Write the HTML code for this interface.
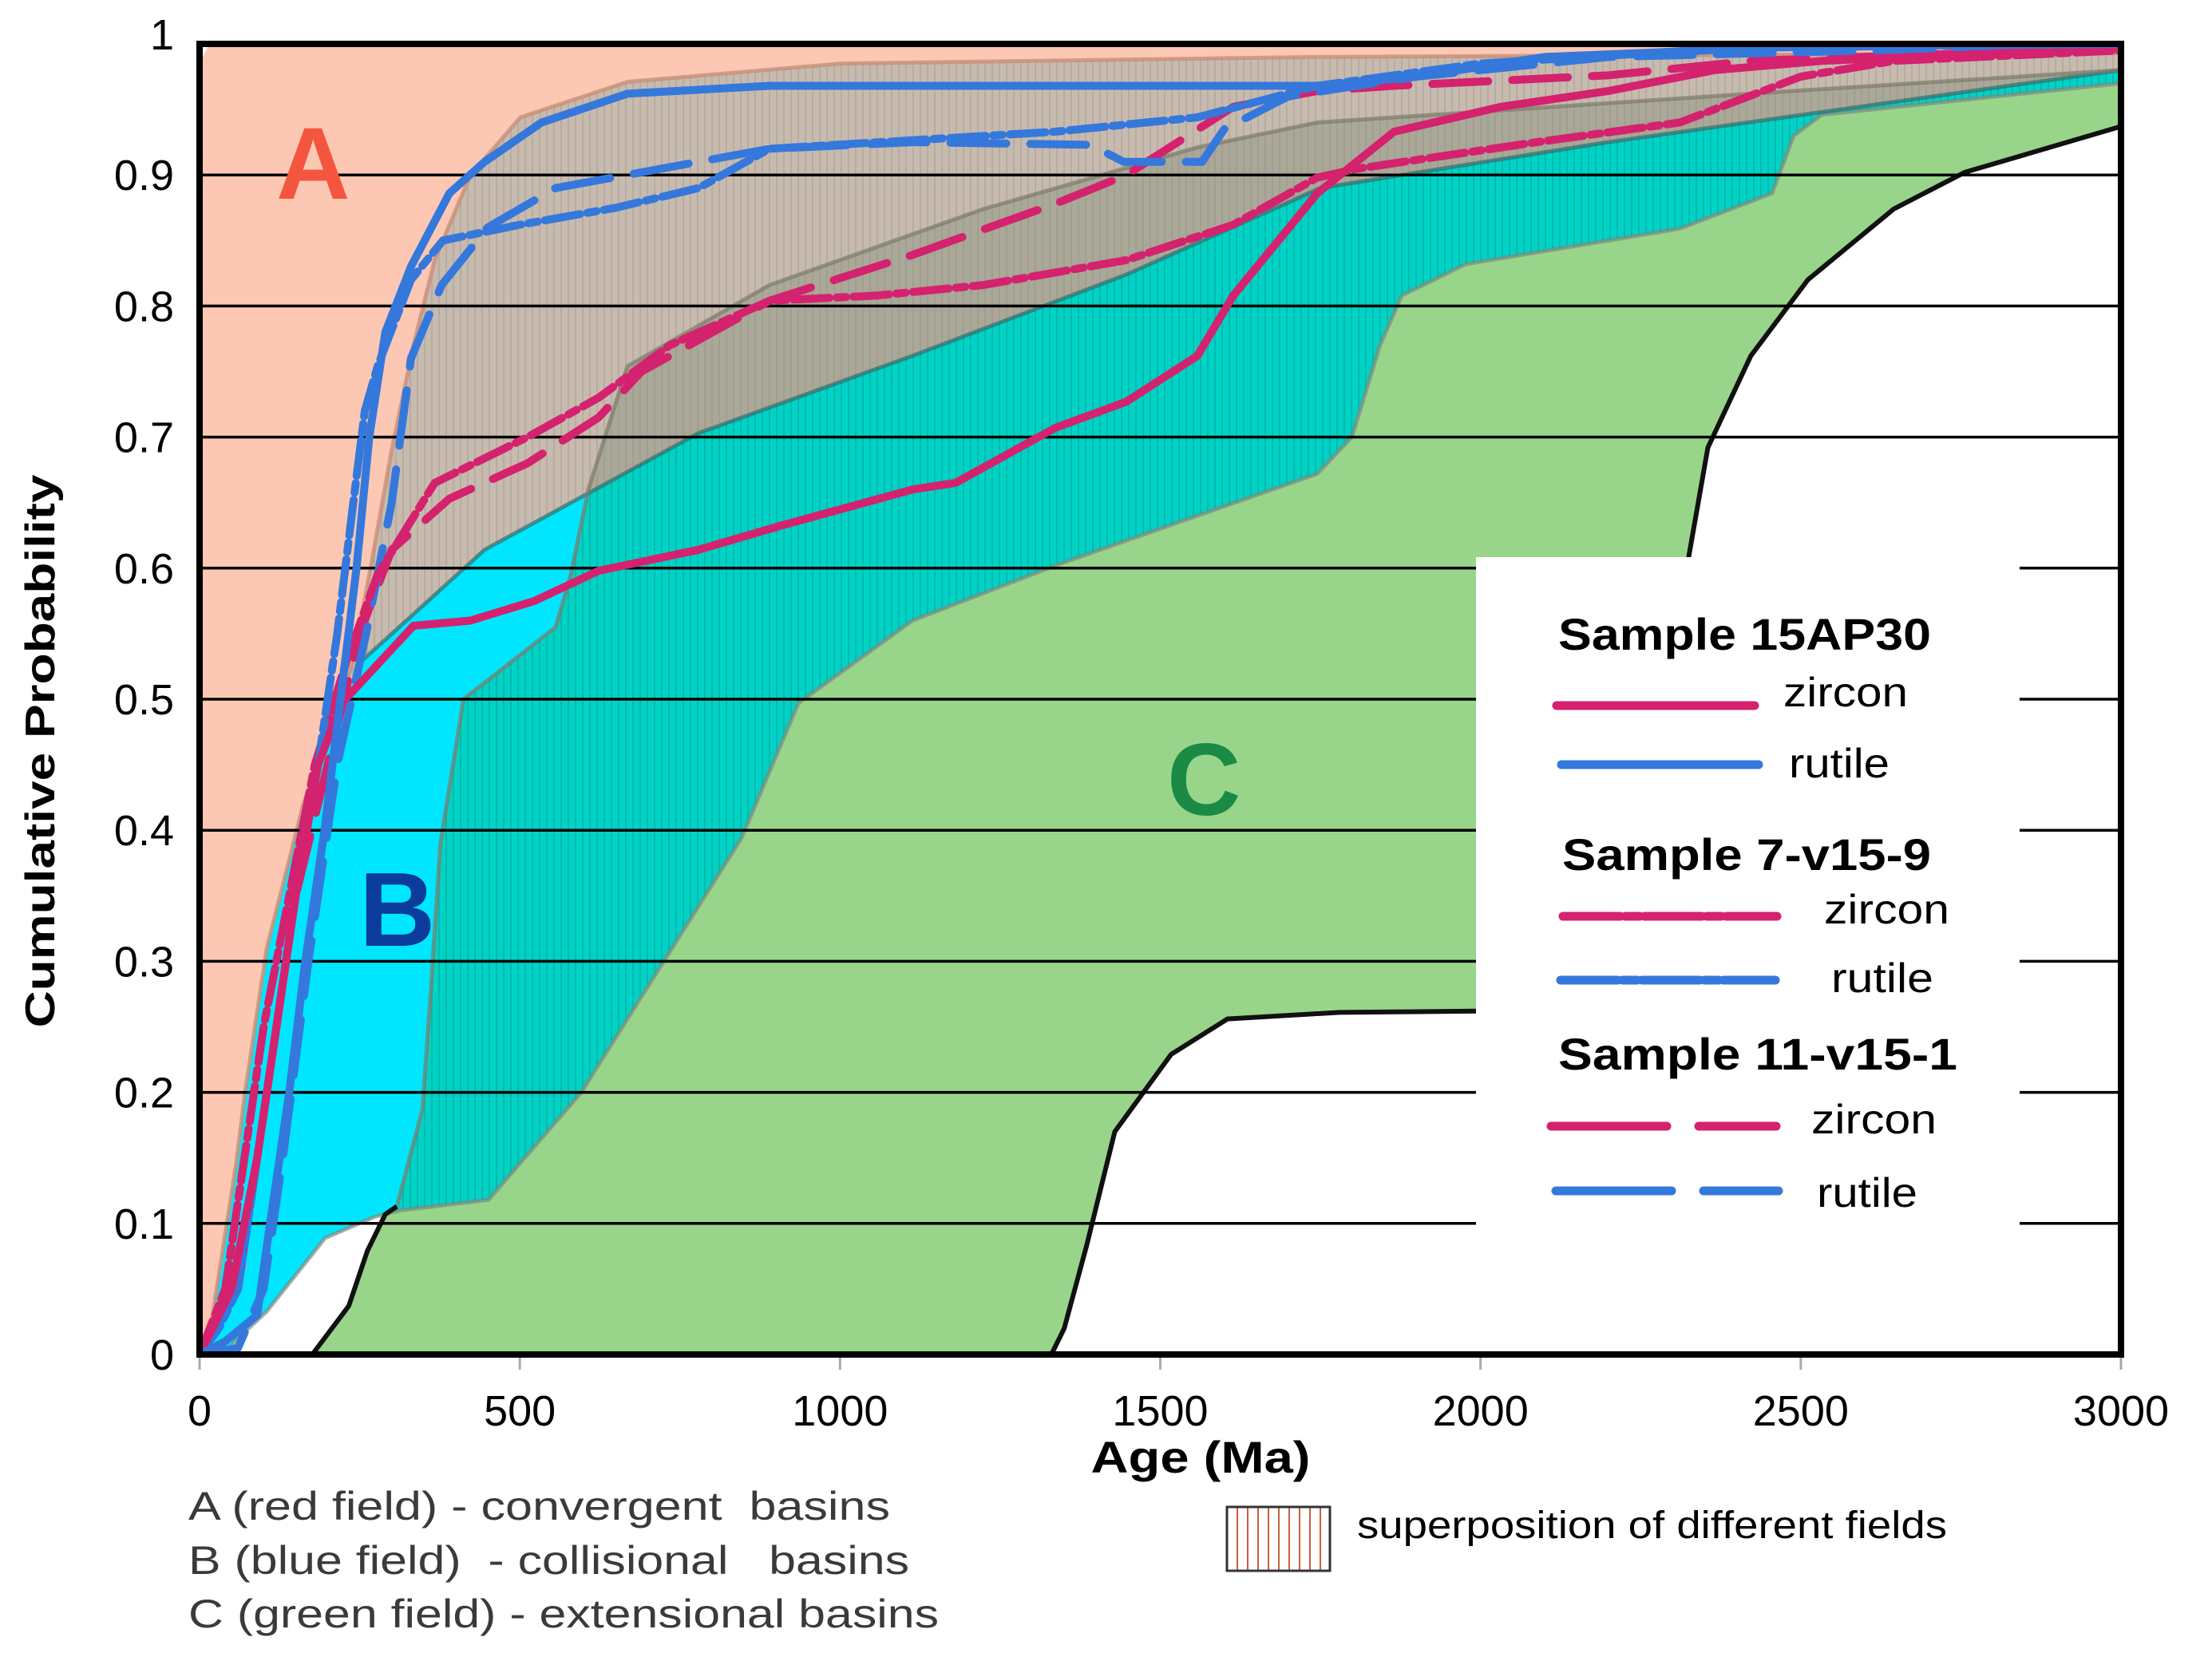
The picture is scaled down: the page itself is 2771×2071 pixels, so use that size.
<!DOCTYPE html>
<html><head><meta charset="utf-8"><style>
html,body{margin:0;padding:0;background:#fff;}
svg{display:block;}
text{font-family:"Liberation Sans",sans-serif;}
</style></head><body>
<svg id="chart" xmlns="http://www.w3.org/2000/svg" width="2771" height="2071" viewBox="0 0 2771 2071">
<defs>
<pattern id="hatchGray" width="9" height="20" patternUnits="userSpaceOnUse"><rect width="9" height="20" fill="none"/><line x1="1" y1="0" x2="1" y2="20" stroke="#8f7f74" stroke-width="1.5" opacity="0.35"/></pattern>
<pattern id="hatchTeal" width="9" height="20" patternUnits="userSpaceOnUse"><line x1="1" y1="0" x2="1" y2="20" stroke="#0a8f88" stroke-width="1.5" opacity="0.5"/></pattern>
<pattern id="hatchLegend" width="13" height="20" patternUnits="userSpaceOnUse"><line x1="3" y1="0" x2="3" y2="20" stroke="#c8603e" stroke-width="2"/></pattern>
<clipPath id="clipA"><path id="clipAPath"/></clipPath>
<clipPath id="clipC"><path id="clipCPath"/></clipPath>
<clipPath id="clipPlot"><rect x="250" y="55" width="2407" height="1642"/></clipPath>
</defs>
<g id="fields" clip-path="url(#clipPlot)"></g>
<g id="grid"></g>
<g id="series" clip-path="url(#clipPlot)"></g>
<g id="labels">
<text x="346" y="249" font-size="128" font-weight="bold" fill="#f4553f">A</text>
<text x="450" y="1185" font-size="132" font-weight="bold" fill="#0b3c9c">B</text>
<text x="1462" y="1021" font-size="128" font-weight="bold" fill="#1a8a45">C</text>
</g>
<rect x="1849" y="698" width="681" height="892" fill="#fff"/>
<g id="legend">
<text x="1952" y="814" font-size="56" font-weight="bold" textLength="467" lengthAdjust="spacingAndGlyphs">Sample 15AP30</text>
<line x1="1950" y1="884" x2="2198" y2="884" stroke="#d4226f" stroke-width="11" stroke-linecap="round"/>
<text x="2234" y="885" font-size="52" textLength="156" lengthAdjust="spacingAndGlyphs">zircon</text>
<line x1="1956" y1="958" x2="2203" y2="958" stroke="#3578dc" stroke-width="11" stroke-linecap="round"/>
<text x="2241" y="974" font-size="52" textLength="126" lengthAdjust="spacingAndGlyphs">rutile</text>
<text x="1957" y="1090" font-size="56" font-weight="bold" textLength="462" lengthAdjust="spacingAndGlyphs">Sample 7-v15-9</text>
<line x1="1958" y1="1148" x2="2226" y2="1148" stroke="#d4226f" stroke-width="11" stroke-linecap="round" stroke-dasharray="72 6 18 6"/>
<text x="2285" y="1157" font-size="52" textLength="157" lengthAdjust="spacingAndGlyphs">zircon</text>
<line x1="1955" y1="1228" x2="2224" y2="1228" stroke="#3578dc" stroke-width="11" stroke-linecap="round" stroke-dasharray="72 6 18 6"/>
<text x="2294" y="1243" font-size="52" textLength="128" lengthAdjust="spacingAndGlyphs">rutile</text>
<text x="1952" y="1340" font-size="56" font-weight="bold" textLength="500" lengthAdjust="spacingAndGlyphs">Sample 11-v15-1</text>
<line x1="1943" y1="1411" x2="2225" y2="1411" stroke="#d4226f" stroke-width="11" stroke-linecap="round" stroke-dasharray="145 40"/>
<text x="2269" y="1420" font-size="52" textLength="157" lengthAdjust="spacingAndGlyphs">zircon</text>
<line x1="1949" y1="1492" x2="2228" y2="1492" stroke="#3578dc" stroke-width="11" stroke-linecap="round" stroke-dasharray="145 40"/>
<text x="2276" y="1512" font-size="52" textLength="126" lengthAdjust="spacingAndGlyphs">rutile</text>
</g>
<rect x="250" y="55" width="2407" height="1642" fill="none" stroke="#000" stroke-width="8"/>
<g id="ticks"></g>
<text x="1504" y="1845" font-size="56" font-weight="bold" text-anchor="middle" textLength="275" lengthAdjust="spacingAndGlyphs">Age (Ma)</text>
<text transform="translate(68,941) rotate(-90)" font-size="52" font-weight="bold" text-anchor="middle" textLength="693" lengthAdjust="spacingAndGlyphs">Cumulative Probability</text>
<g fill="#3a3a3a" font-size="50">
<text x="236" y="1904" xml:space="preserve" textLength="879" lengthAdjust="spacingAndGlyphs">A (red field) - convergent  basins</text>
<text x="236" y="1972" xml:space="preserve" textLength="903" lengthAdjust="spacingAndGlyphs">B (blue field)  - collisional   basins</text>
<text x="236" y="2039" xml:space="preserve" textLength="940" lengthAdjust="spacingAndGlyphs">C (green field) - extensional basins</text>
</g>
<rect x="1537" y="1888" width="129" height="80" fill="url(#hatchLegend)" stroke="#333" stroke-width="3"/>
<text x="1700" y="1927" font-size="48" textLength="739" lengthAdjust="spacingAndGlyphs">superposition of different fields</text>
</svg>
<script>
// ---- data ----
const xTicks = [0, 500, 1000, 1500, 2000, 2500, 3000];
const yTicks = [0, 0.1, 0.2, 0.3, 0.4, 0.5, 0.6, 0.7, 0.8, 0.9, 1];
const yTickLabels = ["0","0.1","0.2","0.3","0.4","0.5","0.6","0.7","0.8","0.9","1"];
// field boundaries [age Ma, probability]
const bUpper = [[14,0.01],[57,0.145],[71,0.2],[105,0.31],[162,0.42],[200,0.47],[240,0.53],[267,0.6],[300,0.69],[334,0.77],[367,0.835],[423,0.9],[501,0.944],[668,0.971],[1002,0.985],[1745,0.99],[3000,0.993]];
const bLower = [[40,0],[55,0.01],[105,0.033],[196,0.089],[273,0.105],[313,0.11],[451,0.118],[596,0.2],[686,0.27],[846,0.394],[935,0.497],[1113,0.56],[1336,0.602],[1745,0.672],[1799,0.7],[1843,0.77],[1877,0.808],[1977,0.832],[2311,0.859],[2455,0.886],[2489,0.93],[2533,0.946],[3000,0.97]];
const aLower = [[255,0.53],[289,0.545],[445,0.614],[779,0.703],[1113,0.762],[1447,0.824],[1750,0.89],[2199,0.925],[2533,0.948],[3000,0.98]];
const cTop = [[308,0.113],[348,0.187],[362,0.284],[376,0.39],[412,0.5],[556,0.555],[579,0.594],[607,0.66],[668,0.754],[890,0.816],[1224,0.874],[1558,0.921],[1745,0.94],[2422,0.962],[3000,0.98]];
const cBottomLeft = [[176,0],[233,0.037],[262,0.079],[290,0.107],[308,0.113]];
const cBottomRight = [[1330,0],[1350,0.02],[1385,0.083],[1429,0.17],[1517,0.229],[1605,0.256],[1780,0.261],[1994,0.262],[2150,0.27],[2270,0.33],[2300,0.45],[2322,0.6],[2355,0.692],[2422,0.762],[2511,0.82],[2645,0.874],[2756,0.902],[3000,0.937]];
// series
const rutile15AP30 = [[0,0],[40,0.01],[90,0.03],[110,0.1],[140,0.2],[165,0.3],[195,0.4],[220,0.5],[245,0.6],[265,0.7],[290,0.78],[330,0.83],[390,0.886],[445,0.91],[534,0.94],[668,0.962],[890,0.968],[1745,0.968],[1900,0.975],[2100,0.99],[2500,0.998],[3000,1]];
const zircon15AP30 = [[0,0],[50,0.05],[90,0.15],[120,0.25],[150,0.35],[185,0.45],[222,0.497],[334,0.556],[423,0.56],[523,0.575],[623,0.598],[779,0.614],[912,0.633],[1113,0.66],[1180,0.665],[1336,0.707],[1447,0.727],[1558,0.762],[1614,0.808],[1745,0.886],[1865,0.933],[2032,0.952],[2199,0.964],[2366,0.98],[2533,0.987],[3000,0.997]];
const rutile7v159 = [[0,0],[30,0.02],[60,0.05],[90,0.15],[120,0.25],[150,0.35],[185,0.45],[215,0.55],[240,0.65],[258,0.72],[278,0.754],[330,0.82],[380,0.85],[500,0.862],[650,0.875],[779,0.89],[890,0.92],[1336,0.933],[1558,0.944],[1745,0.968],[2000,0.985],[2400,0.997],[3000,1]];
const zircon7v159 = [[0,0],[40,0.05],[70,0.15],[100,0.25],[140,0.35],[180,0.45],[230,0.53],[278,0.595],[367,0.665],[512,0.7],[623,0.73],[734,0.77],[890,0.804],[1057,0.808],[1224,0.816],[1447,0.835],[1614,0.862],[1745,0.898],[1810,0.905],[2088,0.925],[2311,0.94],[2500,0.975],[2645,0.987],[3000,0.995]];
const rutile11v151 = [[0,0],[60,0.005],[100,0.05],[130,0.15],[170,0.3],[215,0.45],[260,0.55],[300,0.65],[330,0.76],[378,0.816],[450,0.86],[556,0.89],[723,0.905],[890,0.92],[1113,0.925],[1391,0.923],[1443,0.91],[1565,0.91],[1600,0.935],[1700,0.96],[1900,0.975],[2200,0.99],[3000,1]];
const zircon11v151 = [[0,0],[60,0.05],[90,0.15],[120,0.25],[150,0.35],[200,0.45],[250,0.55],[300,0.614],[390,0.653],[512,0.68],[623,0.715],[690,0.75],[890,0.804],[1113,0.839],[1336,0.878],[1447,0.9],[1614,0.952],[1745,0.964],[1865,0.968],[2199,0.976],[2422,0.987],[3000,0.997]];

// ---- axes ----
const X = m => 250 + m * 2407 / 3000;
const Y = p => 1697 - p * 1642;
const NS = "http://www.w3.org/2000/svg";
const pts = arr => arr.map(d => X(d[0]).toFixed(1) + "," + Y(d[1]).toFixed(1));
const lineD = arr => "M" + pts(arr).join(" L");
function mk(tag, attrs, parent) {
  const el = document.createElementNS(NS, tag);
  for (const k in attrs) el.setAttribute(k, attrs[k]);
  parent.appendChild(el);
  return el;
}
const rev = a => a.slice().reverse();

// polygons
const polyA = [[0,0],[0,0.985],[15,1],[3000,1],[3000,0.985]].concat(rev(aLower)).concat(rev(bUpper.filter(d => d[1] < 0.53)));
const polyB = bUpper.concat([[3000,0.97]]).concat(rev(bLower));
const polyC = cTop.concat([[3000,0.937]]).concat(rev(cBottomRight)).concat(cBottomLeft);
const closeD = arr => lineD(arr) + " Z";

document.getElementById("clipAPath").setAttribute("d", closeD(polyA));
document.getElementById("clipCPath").setAttribute("d", closeD(polyC));

const fields = document.getElementById("fields");
let el;
el = mk("path", {d: closeD(polyA), fill: "#fcc8b3"}, fields);


el = mk("path", {d: closeD(polyC), fill: "#98d58a"}, fields);


el = mk("path", {d: closeD(polyB), fill: "#00e6fe"}, fields);


// overlaps
const gAB = mk("g", {"clip-path": "url(#clipA)"}, fields);
el = mk("path", {d: closeD(polyB), fill: "#c7bbb0"}, gAB);


mk("path", {d: closeD(polyB), fill: "url(#hatchGray)"}, gAB);
const gBC = mk("g", {"clip-path": "url(#clipC)"}, fields);
el = mk("path", {d: closeD(polyB), fill: "#00d3c5"}, gBC);


mk("path", {d: closeD(polyB), fill: "url(#hatchTeal)"}, gBC);
const gABC0 = mk("g", {"clip-path": "url(#clipA)"}, fields);
const gABC = mk("g", {"clip-path": "url(#clipC)"}, gABC0);
el = mk("path", {d: closeD(polyB), fill: "#aaa898"}, gABC);


mk("path", {d: closeD(polyB), fill: "url(#hatchGray)"}, gABC);
// outlines
el = mk("path", {d: lineD(bUpper), fill: "none", stroke: "#c98f78", "stroke-width": 5, opacity: 0.8}, fields);


el = mk("path", {d: lineD(bLower), fill: "none", stroke: "#7a8a80", "stroke-width": 5, opacity: 0.7}, fields);


el = mk("path", {d: lineD(aLower), fill: "none", stroke: "#2d6f70", "stroke-width": 5, opacity: 0.7}, fields);


el = mk("path", {d: lineD(cTop), fill: "none", stroke: "#7d7a6a", "stroke-width": 5, opacity: 0.7}, fields);


el = mk("path", {d: lineD(cBottomLeft), fill: "none", stroke: "#111", "stroke-width": 6}, fields);


el = mk("path", {d: lineD(cBottomRight), fill: "none", stroke: "#111", "stroke-width": 6}, fields);



// grid
const grid = document.getElementById("grid");
yTicks.forEach(p => {
  if (p <= 0 || p >= 1) return;
  const g = mk("line", {x1: X(0), x2: X(3000), y1: Y(p), y2: Y(p), stroke: "#000", "stroke-width": 3.5}, grid);
  
  
});

// series
const series = document.getElementById("series");
const seriesDefs = [
  [zircon11v151, "#d4226f", "70 30", "series-11v151-zircon"],
  [rutile11v151, "#3578dc", "70 30", "series-11v151-rutile"],
  [zircon7v159, "#d4226f", "45 9 12 9", "series-7v159-zircon"],
  [rutile7v159, "#3578dc", "45 9 12 9", "series-7v159-rutile"],
  [zircon15AP30, "#d4226f", "none", "series-15ap30-zircon"],
  [rutile15AP30, "#3578dc", "none", "series-15ap30-rutile"]
];
seriesDefs.forEach(s => {
  const p = mk("path", {d: lineD(s[0]), fill: "none", stroke: s[1], "stroke-width": 10, "stroke-linecap": "round", "stroke-linejoin": "round", "stroke-dasharray": s[2]}, series);
  
  
});

// ticks
const ticks = document.getElementById("ticks");
xTicks.forEach(m => {
  const t = mk("line", {x1: X(m), x2: X(m), y1: 1701, y2: 1716, stroke: "#aaa", "stroke-width": 3}, ticks);
  
  
  const l = mk("text", {x: X(m), y: 1786, "font-size": 54, "text-anchor": "middle"}, ticks);
  l.textContent = String(m);
  
  
});
yTicks.forEach((p, i) => {
  const l = mk("text", {x: 218, y: Y(p) + 19 - (p === 1 ? 12 : 0), "font-size": 54, "text-anchor": "end"}, ticks);
  l.textContent = yTickLabels[i];
  
  
});
</script>
</body></html>
